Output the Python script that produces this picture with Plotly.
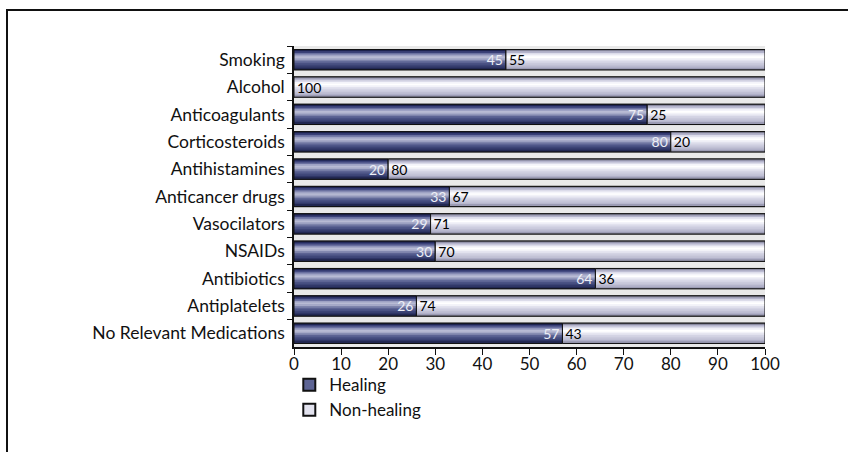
import plotly.graph_objects as go

categories = ["Smoking", "Alcohol", "Anticoagulants", "Corticosteroids", "Antihistamines",
              "Anticancer drugs", "Vasocilators", "NSAIDs", "Antibiotics", "Antiplatelets",
              "No Relevant Medications"]
healing = [45, 0, 75, 80, 20, 33, 29, 30, 64, 26, 57]
non_healing = [55, 100, 25, 20, 80, 67, 71, 70, 36, 74, 43]
x_ticks = [0, 10, 20, 30, 40, 50, 60, 70, 80, 90, 100]

heal_grad = ["#1e2350", "#3a4178", "#6a70a0", "#9ea2c4", "#b8bbd4", "#a6aac8",
             "#7e84ac", "#5d6494", "#4a5284", "#3c4476", "#2e3565", "#222852"]
non_grad = ["#8a8aa0", "#b4b4cc", "#dcdcea", "#f4f4fa", "#ffffff", "#f2f2f8",
            "#e2e2ee", "#d4d4e4", "#cacadc", "#c0c0d4", "#b0b0c8", "#9c9cb4"]

FONT = "Lato"
FS = 17.5
W = 0.74
n = len(heal_grad)
step = W / n

fig = go.Figure()

def add_series(vals, base, grad, mid, name, textcolor, anchor, texts):
    fig.add_trace(go.Bar(y=categories, x=vals, base=base, orientation="h", width=W,
                         marker=dict(color=mid, line=dict(color="#111111", width=1)),
                         name=name, legendgroup=name, showlegend=True, hoverinfo="skip"))
    for i, c in enumerate(grad):
        w = step * 1.35 if i < n - 1 else step
        fig.add_trace(go.Bar(y=categories, x=vals, base=base, orientation="h",
                             width=w, offset=-W / 2 + i * step,
                             marker=dict(color=c, line=dict(width=0)),
                             legendgroup=name, showlegend=False, hoverinfo="skip"))
    fig.add_trace(go.Bar(y=categories, x=vals, base=base, orientation="h", width=W,
                         marker=dict(color="rgba(0,0,0,0)", line=dict(color="#111111", width=1)),
                         text=texts, textposition="inside", insidetextanchor=anchor,
                         textangle=0, constraintext="none",
                         insidetextfont=dict(family=FONT, size=14, color=textcolor),
                         legendgroup=name, showlegend=False, hoverinfo="skip"))

add_series(healing, [0] * len(healing), heal_grad, "#5d6494", "Healing", "#eceef6", "end",
           [str(v) if v > 0 else "" for v in healing])
add_series(non_healing, healing, non_grad, "#e2e2ee", "Non-healing", "#000000", "start",
           [str(v) for v in non_healing])

L, R, T, B = 294, 83, 46, 105
pw = 848 - L - R
ph = 452 - T - B
fx = (7 - L) / pw
fy_top = 1 + (T - 10) / ph
fy_bot = -(B + 5) / ph
fig.add_shape(type="path", xref="paper", yref="paper",
              path=f"M {fx},{fy_bot} L {fx},{fy_top} L 1.3,{fy_top}",
              line=dict(color="#111111", width=2))

fig.update_layout(
    width=848, height=452,
    margin=dict(l=L, r=R, t=T, b=B),
    barmode="overlay",
    plot_bgcolor="#e9e9e9",
    paper_bgcolor="white",
    font=dict(family=FONT, size=FS, color="#111111"),
    xaxis=dict(range=[0, 100], tickvals=x_ticks, ticktext=[str(v) for v in x_ticks],
               showgrid=False, zeroline=False, showline=True, linecolor="#111111", linewidth=1.5,
               ticks="outside", ticklen=6, tickcolor="#111111", tickwidth=1.2,
               ticklabelstandoff=-5,
               tickfont=dict(family=FONT, size=17), fixedrange=True),
    yaxis=dict(categoryorder="array", categoryarray=categories, autorange="reversed",
               showgrid=False, zeroline=False, showline=True, linecolor="#111111", linewidth=1.5,
               ticks="outside", ticklen=5, tickcolor="#111111", tickwidth=1.2, tickson="boundaries",
               ticklabelstandoff=4,
               tickfont=dict(family=FONT, size=FS), fixedrange=True),
    legend=dict(x=-0.01, xanchor="left", y=-0.067, yanchor="top", orientation="v",
                font=dict(family=FONT, size=17), bgcolor="rgba(0,0,0,0)", tracegroupgap=0,
                itemsizing="constant"),
    showlegend=True,
)

fig.write_html("out.html")
